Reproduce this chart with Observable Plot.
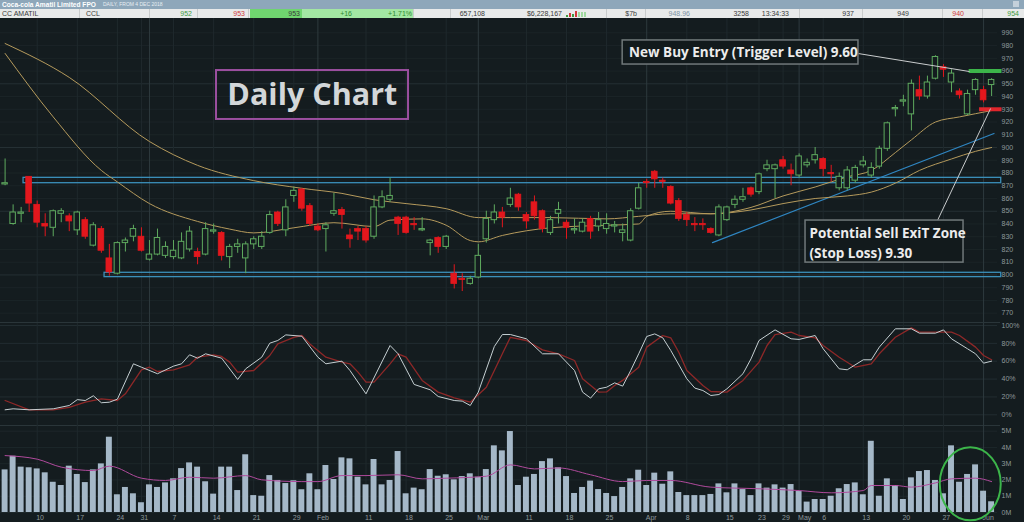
<!DOCTYPE html>
<html><head><meta charset="utf-8">
<script src="https://cdn.jsdelivr.net/npm/d3@7"></script>
<script src="https://cdn.jsdelivr.net/npm/@observablehq/plot@0.6"></script>
<style>
html,body{margin:0;padding:0;background:#141c1f;width:1024px;height:522px;overflow:hidden;font-family:"Liberation Sans",Arial,sans-serif;}
#row1{position:absolute;left:0;top:0;width:1024px;height:9px;background:#8ea7ba;}
#row2{position:absolute;left:0;top:9px;width:1024px;height:9px;background:#e8eaea;}
.t{position:absolute;font-size:7px;line-height:9px;white-space:nowrap;color:#3a3a3a;}
.sep{position:absolute;top:0;width:1px;height:9px;background:#c9cccc;}
.panel{position:absolute;left:0;}
.hl{position:absolute;left:0;width:1000px;height:1px;background:#2a3539;}
</style></head><body>
<div id="row1"></div>
<div id="row2"></div>
<div id="p1" class="panel" style="top:18px"></div>
<div class="hl" style="top:322px"></div>
<div id="p2" class="panel" style="top:323px"></div>
<div class="hl" style="top:425px"></div>
<div id="p3" class="panel" style="top:425px"></div>
<script>
// ---------- DATA ----------
const open  = [871,840,848,877,855,840,837,848,846,835,843,823,836,813,801,825,830,830,812,816,815,814,813,820,818,816,834,833,814,822,813,824,822,833,849,835,862,867,854,838,836,848,851,831,836,836,830,853,859,845,845,840,835,825,829,822,801,797,793,798,828,843,849,855,863,847,857,850,833,848,841,835,834,844,838,836,838,833,827,852,873,881,874,869,858,847,840,840,836,831,843,855,859,868,865,883,883,890,882,878,886,890,891,880,868,868,874,886,878,885,899,930,936,926,945,940,954,963,951,944,926,945,945,949];
const high  = [891,855,853,877,858,848,851,852,848,850,845,841,838,824,826,829,839,837,827,836,826,827,833,838,821,841,840,834,824,828,826,830,834,850,850,859,869,868,856,840,841,864,853,836,838,838,862,866,876,846,846,845,845,828,830,831,808,801,799,824,850,855,853,868,864,849,862,851,846,857,843,844,844,846,849,848,842,840,852,872,875,882,876,870,860,849,845,844,837,855,854,862,868,869,880,890,887,893,887,895,891,900,892,886,880,885,886,893,888,901,920,933,941,953,956,956,972,965,961,946,945,954,948,954];
const low   = [870,839,841,849,837,830,830,841,834,831,828,822,817,799,800,818,826,818,811,815,813,812,812,818,808,815,832,811,805,817,801,820,820,832,838,830,857,850,838,834,818,846,836,821,827,825,828,852,857,831,832,835,834,815,817,820,789,787,792,797,825,840,837,853,850,836,843,833,831,840,828,832,833,828,834,832,833,826,826,851,868,868,868,855,842,838,834,835,832,830,842,852,857,861,863,881,860,883,870,876,884,887,877,873,866,866,872,884,876,883,897,924,932,913,937,938,953,955,943,938,925,941,935,940];
const close = [872,849,849,856,841,838,850,850,842,849,830,839,819,802,825,827,836,819,816,829,822,819,826,834,814,836,835,815,822,824,824,828,830,847,840,853,866,852,840,835,839,850,847,828,834,827,853,861,862,840,833,839,836,827,822,830,793,796,797,815,844,849,845,860,853,842,846,836,843,851,837,836,841,834,843,840,839,835,850,868,872,875,873,856,844,843,839,839,833,853,853,859,861,863,879,886,886,885,879,893,888,894,883,879,877,882,884,889,884,899,919,931,937,950,940,951,971,961,958,941,942,953,937,953];
const volume = [2.62,3.46,2.79,2.75,2.68,2.44,1.86,1.66,2.85,2.34,1.84,2.62,2.99,4.63,1.09,1.54,1.15,0.60,1.70,1.54,1.82,2.07,2.70,3.05,2.79,1.89,1.13,2.79,2.79,1.35,3.55,1.04,1.00,2.27,1.97,1.78,1.95,1.40,2.38,1.40,2.89,2.03,3.36,3.30,2.17,1.70,3.26,1.70,1.97,3.75,1.15,1.50,1.40,2.64,2.23,2.32,2.01,2.21,2.38,2.17,2.64,4.10,3.79,4.98,
  1.66,2.17,2.34,3.13,3.30,2.75,2.21,1.17,1.54,1.93,1.41,1.17,0.98,1.54,2.07,2.60,1.66,2.42,1.74,2.50,1.23,1.04,1.04,1.04,1.11,1.76,1.21,1.76,1.41,1.04,1.76,1.50,1.70,1.50,1.72,1.29,0.64,0.80,0.80,1.00,1.46,1.72,1.82,1.09,4.38,1.00,2.07,1.66,0.80,2.13,2.52,2.58,1.97,1.15,4.10,1.86,2.34,2.93,1.31,0.66];

// moving averages (candle index, price)
const fastMAIdx = [0,6,12,14,18,24,28,31,36,41,46,48,52,55,58,59,62,68,75,79,80,83,88,93,97,101,105,108,111,113,116,119,123];
const fastMA    = [973.8,924,882,873,856,842,836,833,837,841,838,843,844,839,827,826,831,837,839,840,846,850,848,853,862,869,877,882,896,906,920,924,929];
const slowMAIdx = [0,8,18,24,31,37,42,46,50,55,59,63,68,75,79,83,88,93,97,101,105,108,111,114,118,121,123];
const slowMA    = [981.6,955,904.7,886,874,868,864,859,856,852,845,845,845,844,846,848,848,851,856,860,862,865,872,882,891,897,900];

// stochastic %K and %D (candle index, percent)
const stochKIdx = [0,1,3,6,8,9,10,11,12,13,14,16,17,19,21,22,23,24,25,27,29,30,32,33,34,35,37,39,40,42,43,45,48,49,51,53,54,56,57,58,59,61,62,63,65,67,69,71,72,73,74,75,76,77,78,79,80,81,82,83,85,86,87,88,89,90,92,93,94,96,98,99,101,102,104,105,107,108,109,111,113,114,116,117,118,120,121,122,123];
const stochK    = [5.6,6.7,5.6,6.7,10.4,17,16,21.3,13.5,14.1,17.5,57.1,53.3,46,54.5,57.1,67.2,63.4,68.3,63.4,39.6,51.5,64.5,80.2,83.2,89.5,88,64.5,57.1,60.1,49.6,23.5,77.6,68.3,34,28,20.5,16,15.3,10.4,25.4,76.5,89.9,89.9,85.1,68.3,68.3,49.6,25.4,18.7,29.1,30.9,35.8,32.1,49.6,68.3,87.7,90.6,86.2,72,40.3,29.9,27.2,21.6,22.7,29.1,46,62.6,83.2,95.1,85.1,84.4,88.8,73.9,51.5,50.4,61.6,61.6,75.8,96.3,96.3,91.4,91.4,95.1,85.1,73.9,68.3,57.8,60.1];
const stochDIdx = [0,3,6,8,10,12,14,15,17,18,19,21,23,24,26,27,28,29,31,33,34,36,37,38,40,42,43,44,45,46,48,49,50,52,54,56,58,60,62,63,65,67,69,71,72,74,75,76,77,79,80,82,83,84,85,87,88,90,92,94,95,96,98,99,101,102,104,106,108,109,111,113,114,116,118,119,121,122,123];
const stochD    = [16,5.6,5.6,8.2,14.1,17.9,16,23.5,50.4,53.3,48.5,50.4,56,64.5,67.2,65.3,59,47.8,49.6,66.4,79.4,86.8,88.8,79.4,64.5,59,57.1,47.8,36.6,36.6,57.1,68.3,64.5,38.5,25.4,19,14.1,30.9,68.3,86.8,83.2,72.7,68.3,60.8,40.3,25.4,25.6,32.8,38.5,53.3,75.8,88.8,86.2,70.1,49.6,32.8,26.1,25.4,38.5,59,77.6,89.9,92.5,88.8,86.2,77.6,64.5,53.3,57.1,68.3,86.8,97.3,92.5,92.5,92.5,88.8,75.8,66.4,61.6];

// volume moving average (candle index, millions)
const volMAIdx = [0,4,7,11,13,17,20,23,26,30,32,37,39,42,45,49,52,55,60,63,66,69,73,77,80,83,88,94,99,103,107,108,111,113,116,118,121,123];
const volMA    = [3.50,3.28,2.79,2.58,2.85,2.11,1.97,2.17,2.11,2.27,2.01,1.90,1.90,2.27,2.27,2.32,2.07,2.11,2.23,2.93,2.68,2.74,2.32,1.90,1.97,1.97,1.56,1.46,1.35,1.21,1.35,1.66,1.66,1.56,1.82,2.07,2.11,1.90];

// support / resistance channels and trend line
const channelTop    = [876.2, 801.7];
const channelBottom = [872.0, 798.3];
const channelStart  = [2.3, 12.4];
const channelEnd    = [124.2, 124.2];
const trendIdx   = [88.2, 123.3];
const trendPrice = [825.4, 911];
const triggerLevel = 960, stopLevel = 930;

// axis ticks
const priceTicks = [770,780,790,800,810,820,830,840,850,860,870,880,890,900,910,920,930,940,950,960,970,980,990];
const stochTicks = [0,20,40,60,80,100];
const volTicks = [0,1,2,3,4,5];
const tickIdx    = [4,9,14,17,21,26,31,36,39,45,50,55,59,65,70,75,80,85,90,94,97,99,102,107,112,117,122];
const tickLabels = ["10","17","24","31","7","14","21","29","Feb","11","18","25","Mar","11","18","25","Apr","8","15","23","29","May","6","13","20","27","Jun"];
const monthIdx = [18,39,59,80,99,122];

// ---------- HEADER ----------
const row1 = document.getElementById("row1");
row1.innerHTML = '<div class="t" style="left:2px;top:0;color:#fff;font-weight:bold;font-size:6.6px;">Coca-cola Amatil Limited FPO</div>'+
  '<div class="t" style="left:103px;top:0;color:#e8eef3;font-size:5px;">DAILY, FROM 4 DEC 2018</div>'+
  '<div style="position:absolute;left:1013px;top:1px;width:6px;height:6px;background:#c4d0da;"></div>';
const row2 = document.getElementById("row2");
const cells = [
  {t:"CC AMATIL", l:2},{t:"CCL", l:86},{t:"952", r:192, c:"#3f9c3f"},{t:"953", r:245, c:"#d03a3a"},
  {t:"953", r:300},{t:"+16", r:352, c:"#2f8a2f"},{t:"+1.71%", r:412, c:"#2f8a2f"},{t:"657,108", r:485},
  {t:"$6,228,167", r:562},{t:"$7b", r:637},{t:"948.96", r:690, c:"#7d93a4"},{t:"3258", r:749},
  {t:"13:34:33", r:789},{t:"937", r:854},{t:"949", r:909},{t:"940", r:964, c:"#d03a3a"},{t:"954", r:1019, c:"#3f9c3f"}
];
let h = '<div style="position:absolute;left:250px;top:0;width:52px;height:9px;background:#6fd56f"></div>'+
        '<div style="position:absolute;left:302px;top:0;width:111px;height:9px;background:#a3e7a3"></div>';
[79,149,197,248,413,450,606,645,799,862,942,982].forEach(x=>{h+=`<div class="sep" style="left:${x}px"></div>`;});
// mini bars next to turnover
[["#3f9c3f",2],["#d03a3a",4],["#3f9c3f",3],["#d03a3a",6],["#9fd99f",5],["#9fd99f",5],["#9fd99f",5]].forEach((b,k)=>{
  h+=`<div style="position:absolute;left:${566+k*3}px;top:${9-b[1]-1}px;width:2px;height:${b[1]}px;background:${b[0]}"></div>`;});
cells.forEach(c=>{
  const pos = c.l!==undefined ? `left:${c.l}px` : `right:${1024-c.r}px`;
  h += `<div class="t" style="${pos};top:0;color:${c.c||'#3a3a3a'}">${c.t}</div>`;
});
row2.innerHTML = h;

// ---------- CHARTS ----------
const BG = "#141c1f", GREEN = "#5faa5f", RED = "#e3171d", MAC = "#b59a5c";
const X = {domain:[0,123], range:[4.6,991.1], axis:null, label:null};
const weekIdx = tickIdx.filter(d => !monthIdx.includes(d));
const candles = open.map((o,i)=>({i, o, h:high[i], l:low[i], c:close[i], up: close[i] >= o}));
const up = candles.filter(d=>d.up), dn = candles.filter(d=>!d.up);
const pts = (xs, ys) => xs.map((x,k)=>({i:x, v:ys[k]}));
const channels = channelTop.map((t,k)=>({t, b:channelBottom[k], s:channelStart[k], e:channelEnd[k]}));
const common = {width:1024, marginLeft:0, marginRight:27, marginTop:0,
  style:{background:"transparent", color:"#8e989b", fontFamily:"Liberation Sans, Arial, sans-serif", fontSize:"7px", overflow:"visible"}};
const vgrid = [
  Plot.ruleX(weekIdx, {stroke:"#1f292d", strokeWidth:1}),
  Plot.ruleX(monthIdx, {stroke:"#2e3a3e", strokeWidth:1})
];
const annFont = {fontFamily:"Open Sans, Noto Sans, sans-serif", fontWeight:"bold", fill:"#ececec"};
const yAxis = (ticks, fmt) => Plot.axisY(ticks, {anchor:"right", tickSize:0, tickPadding:4, fontSize:7, label:null, tickFormat:fmt});

const p1 = Plot.plot({...common, height:305, marginBottom:0,
  x:X, y:{domain:[770,990], range:[294.7,14.3], axis:null, label:null},
  marks:[
    Plot.ruleY(priceTicks, {stroke: d => d % 50 === 0 ? "#253034" : "#1b2427"}),
    ...vgrid,
    yAxis(priceTicks, d=>String(d)),
    Plot.rect(channels, {x1:"s", x2:"e", y1:"b", y2:"t", fill:"none", stroke:"#3b8fb9", strokeWidth:1.3}),
    Plot.line(pts(trendIdx, trendPrice), {x:"i", y:"v", stroke:"#2f86c2", strokeWidth:1.2}),
    Plot.line(pts(slowMAIdx, slowMA), {x:"i", y:"v", curve:"monotone-x", stroke:MAC, strokeWidth:1}),
    Plot.line(pts(fastMAIdx, fastMA), {x:"i", y:"v", curve:"monotone-x", stroke:MAC, strokeWidth:1}),
    Plot.ruleX(up, {x:"i", y1:"l", y2:"h", stroke:GREEN, strokeWidth:1}),
    Plot.ruleX(dn, {x:"i", y1:"l", y2:"h", stroke:RED, strokeWidth:1}),
    Plot.rect(up, {x1:d=>d.i-0.34, x2:d=>d.i+0.34, y1:"o", y2:"c", fill:BG, stroke:GREEN, strokeWidth:1}),
    Plot.rect(dn, {x1:d=>d.i-0.36, x2:d=>d.i+0.36, y1:"o", y2:"c", fill:RED, stroke:RED, strokeWidth:0.8}),
    Plot.ruleY([triggerLevel], {x1:120.2, x2:124.3, stroke:"#3cb54a", strokeWidth:4}),
    Plot.ruleY([stopLevel], {x1:121.5, x2:124.3, stroke:"#e0262c", strokeWidth:4}),
    // annotations
    Plot.link([{a:106.4, b:973.7, c:120.25, d:959.6},{a:116.25, b:842.7, c:122.87, d:930.6}],
      {x1:"a", y1:"b", x2:"c", y2:"d", stroke:"#c9cccd", strokeWidth:1}),
    Plot.rect([{a:77.0, b:106.4, c:965.1, d:984.0},{a:99.8, b:119.5, c:809.7, d:842.7}],
      {x1:"a", x2:"b", y1:"c", y2:"d", fill:"#121a1c", stroke:"#70787a", strokeWidth:1.5}),
    Plot.text(["New Buy Entry (Trigger Level) 9.60"], {x:77.8, y:974.4, text:d=>d, textAnchor:"start", fontSize:13.5, ...annFont}),
    Plot.text(["Potential Sell ExiT Zone\n(Stop Loss) 9.30"], {x:100.3, y:826.2, text:d=>d, textAnchor:"start", lineAnchor:"middle", lineHeight:1.45, fontSize:13.5, ...annFont}),
    Plot.rect([{a:26.36, b:50.3, c:922.0, d:960.4}], {x1:"a", x2:"b", y1:"c", y2:"d", fill:"none", stroke:"#9b4f9f", strokeWidth:2}),
    Plot.text(["Daily Chart"], {x:38.3, y:941.2, text:d=>d, fontSize:30.5, fontFamily:"Open Sans, Noto Sans, sans-serif", fontWeight:"bold", fill:"#d3d7d9"})
  ]});
document.getElementById("p1").appendChild(p1);

const p2 = Plot.plot({...common, height:102, marginBottom:0,
  x:X, y:{domain:[0,100], range:[91.3,2], axis:null, label:null},
  marks:[
    Plot.ruleY(stochTicks, {stroke:"#222d31"}),
    ...vgrid,
    yAxis(stochTicks, d=>d+"%"),
    Plot.line(pts(stochDIdx, stochD), {x:"i", y:"v", stroke:"#8e2828", strokeWidth:1.3}),
    Plot.line(pts(stochKIdx, stochK), {x:"i", y:"v", stroke:"#c5cfd2", strokeWidth:1})
  ]});
document.getElementById("p2").appendChild(p2);

const circleAt = {i:120.4, v:1.73};
const p3 = Plot.plot({...common, height:97, marginBottom:10,
  x:X, y:{domain:[0,5], range:[87,5.7], axis:null, label:null},
  marks:[
    Plot.ruleY(volTicks, {stroke:"#1d272a"}),
    ...vgrid,
    yAxis(volTicks, d=>d+"M"),
    Plot.axisX(tickIdx, {anchor:"bottom", tickSize:0, tickPadding:3, fontSize:7, textAnchor:"start", dx:-1, label:null,
      tickFormat:d=>tickLabels[tickIdx.indexOf(d)]}),
    Plot.rect(volume.map((v,i)=>({i,v})), {x1:d=>d.i-0.37, x2:d=>d.i+0.37, y1:0, y2:"v", fill:"#a5b8c8"}),
    Plot.line(pts(volMAIdx, volMA), {x:"i", y:"v", curve:"monotone-x", stroke:"#b04a9c", strokeWidth:1}),
    (index, scales) => {
      const e = document.createElementNS("http://www.w3.org/2000/svg", "ellipse");
      e.setAttribute("cx", scales.x(circleAt.i)); e.setAttribute("cy", scales.y(circleAt.v));
      e.setAttribute("rx", 30.5); e.setAttribute("ry", 36.5);
      e.setAttribute("fill", "none"); e.setAttribute("stroke", "#3cb54a"); e.setAttribute("stroke-width", 2);
      return e;
    }
  ]});
document.getElementById("p3").appendChild(p3);
</script>
</body></html>
